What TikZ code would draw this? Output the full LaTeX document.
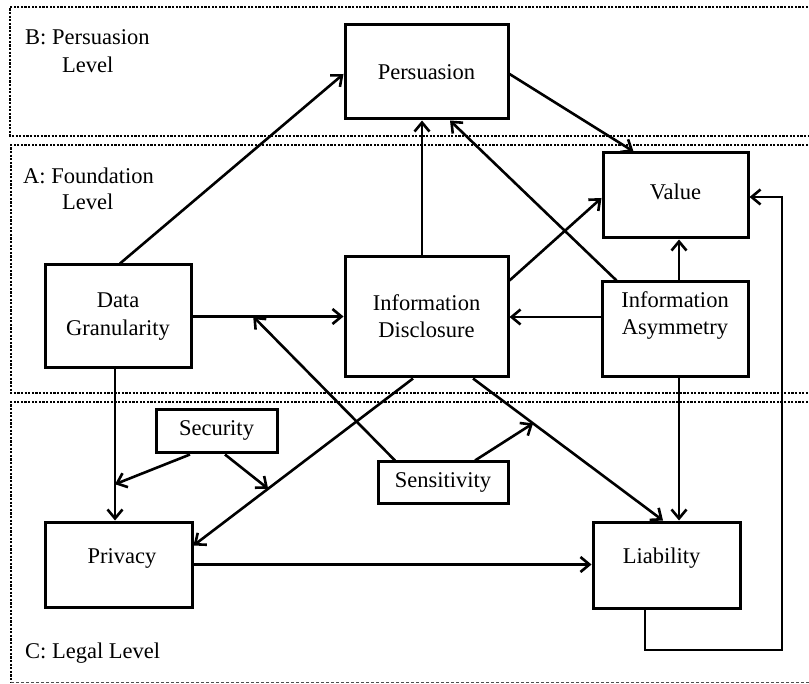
\documentclass[tikz,border=0pt]{standalone}
\usepackage{fontspec}
\setmainfont{Liberation Serif}
\usetikzlibrary{arrows.meta,calc}

\begin{document}
\begin{tikzpicture}[x=1pt,y=-1pt,
  box/.style={draw,line width=3pt,inner sep=0pt,rectangle},
  lbl/.style={font=\fontsize{22.5}{27.5}\selectfont,align=center,inner sep=0pt},
  lvl/.style={font=\fontsize{22.5}{27.5}\selectfont,anchor=west,inner sep=0pt},
  link/.style={line width=2.6pt,-{Straight Barb[length=9pt,width=15pt]}},
  frame/.style={line width=2.6pt,dash pattern=on 2.2pt off 1.4pt},
]
\clip (0,0) rectangle (809,684);

% level frames
\draw[frame] (815,7) -- (10,7) -- (10,136) -- (815,136);
\draw[frame] (815,145) -- (11,145) -- (11,393) -- (815,393);
\draw[frame] (815,402) -- (11,402) -- (11,682);
\draw[line width=1pt,dash pattern=on 3pt off 2pt,black!70] (11,682) -- (815,682);

% level labels
\node[lvl] (lb1) at (25,37) {B: Persuasion};
\node[lvl] (lb2) at (62,65) {Level};
\node[lvl] (la1) at (23,176) {A: Foundation};
\node[lvl] (la2) at (62,202) {Level};
\node[lvl] (lc)  at (25,653) {C: Legal Level};

% boxes
\node[box,minimum width=163pt,minimum height=94pt]  (pers) at (426.5,72)    {};
\node[box,minimum width=145pt,minimum height=85pt]  (val)  at (675.5,195.5) {};
\node[box,minimum width=146pt,minimum height=103pt] (dg)   at (118,316.5)   {};
\node[box,minimum width=163pt,minimum height=120pt] (id)   at (426.5,317)   {};
\node[box,minimum width=146pt,minimum height=95pt]  (ia)   at (675,329.5)   {};
\node[box,minimum width=121pt,minimum height=43pt]  (sec)  at (216.5,431.5) {};
\node[box,minimum width=130pt,minimum height=42pt]  (sens) at (443,483)     {};
\node[box,minimum width=147pt,minimum height=85pt]  (priv) at (118.5,564.5) {};
\node[box,minimum width=147pt,minimum height=86pt]  (liab) at (666.5,565)   {};

% box texts
\node[lbl] (pers-t) at (426.5,72)  {Persuasion};
\node[lbl] (val-t)  at (675.5,192) {Value};
\node[lbl] (dg-t)   at (118,316.5) {Data\\Granularity};
\node[lbl] (id-t)   at (426.5,316) {Information\\Disclosure};
\node[lbl] (ia-t)   at (675,315.5) {Information\\Asymmetry};
\node[lbl] (sec-t)  at (216.5,430) {Security};
\node[lbl] (sens-t) at (443,482)   {Sensitivity};
\node[lbl] (priv-t) at (122,558)   {Privacy};
\node[lbl] (liab-t) at (661.5,558) {Liability};

% foundation and persuasion links
\draw[link] ([xshift=2pt]dg.north) -- ([yshift=-2pt]pers.west);
\draw[link] ([xshift=-4.5pt]id.north) -- ([xshift=-4.5pt]pers.south);
\draw[link] ([xshift=16pt]ia.north west) -- ([xshift=23.5pt]pers.south);
\draw[link] ([yshift=-2pt]pers.east) -- ([xshift=32pt]val.north west);
\draw[link] ([yshift=-25pt]id.north east) -- ([yshift=-2.5pt]val.west);
\draw[link] ([xshift=4pt]ia.north) -- ([xshift=3.5pt]val.south);
\coordinate (iaw) at ([yshift=12.5pt]ia.west);
\draw[link] (iaw) -- (iaw -| id.east);
\draw[link] (dg.east) -- (dg.east -| id.west);

% links reaching down into the legal level
\coordinate (idl) at ([xshift=46.5pt]id.south);
\coordinate (liabt) at ([xshift=-3.5pt]liab.north);
\draw[link] (idl) -- (liabt);
\coordinate (idp) at ([xshift=-13.5pt]id.south);
\coordinate (privr) at ([yshift=-25pt]priv.north east);
\draw[link] (idp) -- (privr);
\coordinate (dgb) at ([xshift=-3pt]dg.south);
\coordinate (privt) at ([xshift=-3.5pt]priv.north);
\draw[link] (dgb) -- (privt);

% moderating links that end on other links
\coordinate (m1) at ($(dg.east)!0.402!(dg.east -| id.west)$);
\coordinate (m2) at ($(idl)!0.316!(liabt)$);
\coordinate (m3) at ($(dgb)!0.76!(privt)$);
\coordinate (m4) at ($(idp)!0.66!(privr)$);
\draw[link] ([xshift=-48pt]sens.north) -- (m1);
\draw[link] ([xshift=32pt]sens.north) -- (m2);
\draw[link] ([xshift=-26.5pt]sec.south) -- (m3);
\draw[link] ([xshift=8.5pt]sec.south) -- (m4);

% legal level links
\draw[link] (priv.east) -- (priv.east -| liab.west);
\draw[link] ([xshift=4pt]ia.south) -- ([xshift=12.5pt]liab.north);
\coordinate (loop) at (782,650);
\draw[link] ([xshift=-21.5pt]liab.south) |- (loop) |- ([yshift=-1.5pt]val.east);
\end{tikzpicture}
\end{document}
